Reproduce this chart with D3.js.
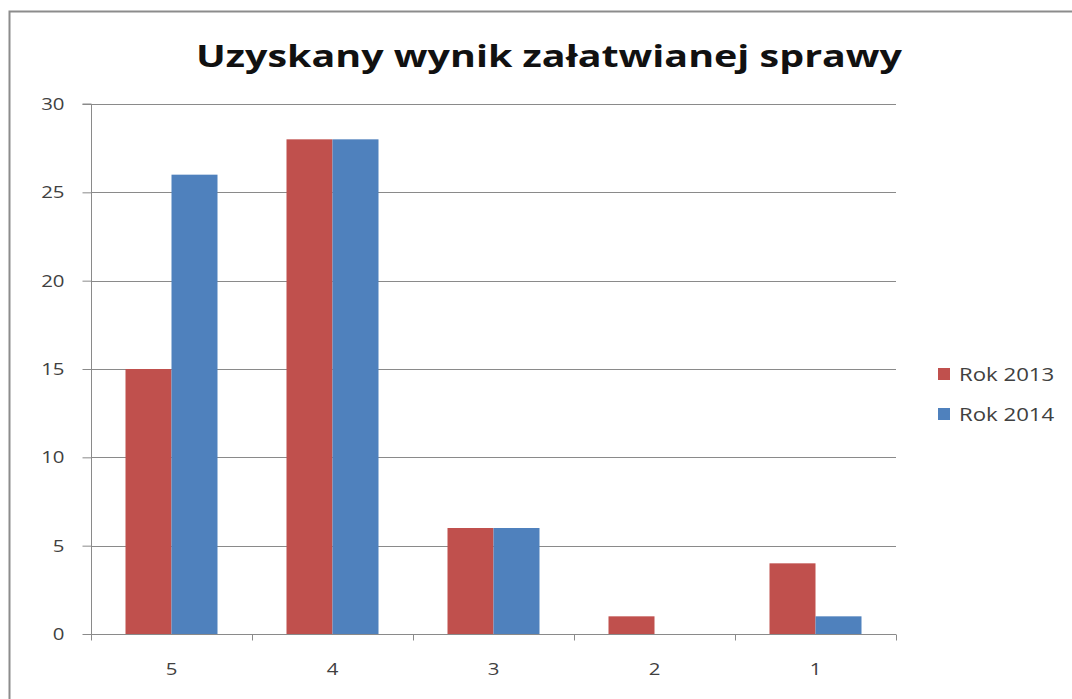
<!DOCTYPE html>
<html><head><meta charset="utf-8">
<script src="https://cdn.jsdelivr.net/npm/d3@7"></script>
<style>body{margin:0;background:#fff}svg{display:block}</style>
</head><body>
<svg id="c" width="1072" height="699"></svg>
<script>
const categories = ["5","4","3","2","1"];
const seriesNames = ["Rok 2013","Rok 2014"];
const rok2013 = [15, 28, 6, 1, 4];
const rok2014 = [26, 28, 6, 0, 1];
const yTicks = [0, 5, 10, 15, 20, 25, 30];
const colors = ["#C0504D", "#4F81BD"];
const title = "Uzyskany wynik załatwianej sprawy";

(function () {
const svg = d3.select("#c");
const font = "'Open Sans', sans-serif";
const widen = sel => sel.each(function () {
  const len = this.getComputedTextLength();
  d3.select(this).attr("textLength", len * 1.2).attr("lengthAdjust", "spacingAndGlyphs");
});
// outer border
svg.append("rect").attr("x", 9.5).attr("y", 11.5).attr("width", 1100).attr("height", 720)
  .attr("fill", "#fff").attr("stroke", "#8c8c8c").attr("stroke-width", 2);

const pL = 91, pR = 896, pT = 104, pB = 634;
const x = d3.scaleBand().domain(categories).range([pL, pR]).paddingInner(0).paddingOuter(0);
const y = d3.scaleLinear().domain([0, 30]).range([pB, pT]);
const inner = d3.scaleBand().domain(seriesNames).range([0, x.bandwidth()]).paddingInner(0).paddingOuter(0.75);

// gridlines
svg.append("g").selectAll("line").data(yTicks.filter(d => d > 0)).join("line")
  .attr("x1", pL).attr("x2", pR).attr("y1", d => Math.round(y(d)) + 0.5).attr("y2", d => Math.round(y(d)) + 0.5)
  .attr("stroke", "#8a8a8a").attr("stroke-width", 1);

// bars
const data = categories.map((c, i) => ({c, vals: [rok2013[i], rok2014[i]]}));
const g = svg.append("g").selectAll("g").data(data).join("g").attr("transform", d => `translate(${x(d.c)},0)`);
g.selectAll("rect").data(d => d.vals.map((v, k) => ({v, k}))).join("rect")
  .attr("x", d => inner(seriesNames[d.k])).attr("width", inner.bandwidth())
  .attr("y", d => y(d.v)).attr("height", d => y(0) - y(d.v))
  .attr("fill", d => colors[d.k]);

// y axis
const ya = d3.axisLeft(y).tickValues(yTicks).tickSize(9).tickPadding(18).tickFormat(d3.format("d"));
const yg = svg.append("g").attr("transform", `translate(${pL + 0.5},0)`).call(ya);
yg.select(".domain").attr("stroke", "#8a8a8a").attr("d", `M-9,${pT}H0V${pB + 6}`);
yg.selectAll(".tick line").attr("stroke", "#8a8a8a");
yg.selectAll("text").attr("font-family", font).attr("font-size", 17).attr("fill", "#404040").call(widen);

// x axis
const xa = d3.axisBottom(x).tickSize(0).tickPadding(28);
const xg = svg.append("g").attr("transform", `translate(0,${pB + 0.5})`).call(xa);
xg.select(".domain").attr("stroke", "#8a8a8a").attr("d", `M${pL},0H${pR}`);
xg.selectAll("text").attr("font-family", font).attr("font-size", 17).attr("fill", "#404040").call(widen);
const bounds = categories.map(c => x(c)).concat([pR]);
xg.append("g").selectAll("line").data(bounds).join("line")
  .attr("x1", d => Math.round(d) + 0.5).attr("x2", d => Math.round(d) + 0.5).attr("y1", 0).attr("y2", 6)
  .attr("stroke", "#8a8a8a");

// title
svg.append("text").attr("x", 549).attr("y", 67).attr("text-anchor", "middle")
  .attr("font-family", font).attr("font-weight", "bold").attr("font-size", 31).attr("fill", "#111")
  .attr("textLength", 706).attr("lengthAdjust", "spacingAndGlyphs").text(title);

// legend
const lg = svg.append("g").selectAll("g").data(seriesNames).join("g")
  .attr("transform", (d, i) => `translate(938,${368 + i * 40})`);
lg.append("rect").attr("width", 12).attr("height", 12).attr("fill", (d, i) => colors[i]);
lg.append("text").attr("x", 21).attr("y", 12.5).attr("font-family", font).attr("font-size", 18.5)
  .attr("fill", "#404040").text(d => d).call(widen);
})();
</script>
</body></html>
